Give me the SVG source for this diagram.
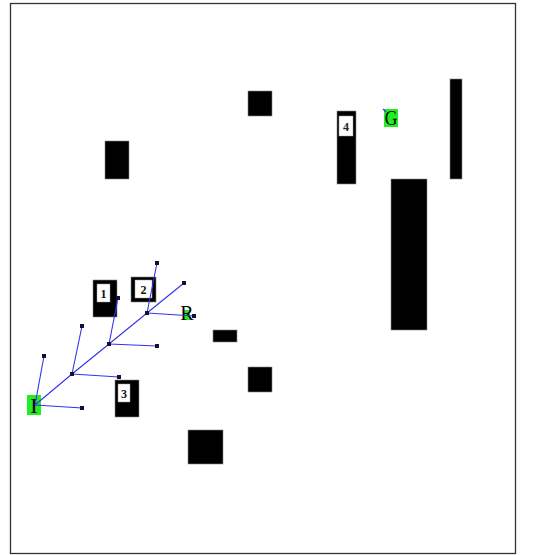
<svg xmlns="http://www.w3.org/2000/svg" width="541" height="555" viewBox="0 0 541 555">
<style>
.obs{fill:#000;stroke:#888;stroke-width:0.6}
.lbl{fill:#fff;stroke:#999;stroke-width:0.5}
.num{font-family:"Liberation Serif",serif;font-size:12px;font-weight:bold;fill:#111;text-anchor:middle}
.big{font-family:"Liberation Serif",serif;font-size:22px;fill:#000;text-anchor:middle}
.start{fill:#22ee22}
.edge{stroke:#3333ee;stroke-width:1.1;fill:none}
.node{fill:#111133}
</style>
<rect x="0" y="0" width="541" height="555" fill="#fff"/>
<rect x="10.5" y="3.5" width="505" height="550" fill="none" stroke="#333" stroke-width="1.3"/>
<g id="obstacles">
<rect class="obs" x="248" y="91" width="24" height="25"/>
<rect class="obs" x="105" y="141" width="24" height="38"/>
<rect class="obs" x="450" y="79" width="12" height="100"/>
<rect class="obs" x="391" y="179" width="36" height="151"/>
<rect class="obs" x="213" y="330" width="24" height="12"/>
<rect class="obs" x="248" y="367" width="24" height="25"/>
<rect class="obs" x="188" y="430" width="35" height="34"/>
</g>
<g id="box1"><rect class="obs" x="93" y="280" width="24" height="37"/><rect class="lbl" x="97" y="284" width="13" height="18"/><text class="num" x="103.5" y="298">1</text></g>
<g id="box2"><rect class="obs" x="131" y="277" width="25" height="25"/><rect class="lbl" x="135" y="280" width="17" height="18"/><text class="num" x="143.5" y="294">2</text></g>
<g id="box3"><rect class="obs" x="115" y="380" width="24" height="37"/><rect class="lbl" x="118" y="384" width="12" height="18"/><text class="num" x="124" y="398">3</text></g>
<g id="box4"><rect class="obs" x="337" y="111" width="19" height="73"/><rect class="lbl" x="339" y="116" width="14" height="20"/><text class="num" x="346" y="131" style="fill:#223">4</text></g>
<g id="goal"><rect class="start" x="384" y="109" width="14" height="18"/><text class="big" x="391" y="125" transform="translate(391 117) scale(0.8 1) translate(-391 -117)">G</text></g>
<g id="init"><rect class="start" x="27" y="395" width="14" height="20"/><text class="big" x="34" y="413">I</text></g>
<g id="R"><rect class="start" x="184" y="310" width="6" height="10"/><text class="big" x="187" y="320" style="font-size:20px">R</text></g>
<g id="connectors">
<polyline class="edge" points="35,405 72,374 109,344 147,313 184,283"/>
<line class="edge" x1="35" y1="405" x2="82" y2="408"/>
<line class="edge" x1="35" y1="405" x2="44" y2="356"/>
<line class="edge" x1="72" y1="374" x2="82" y2="326"/>
<line class="edge" x1="72" y1="374" x2="119" y2="377"/>
<line class="edge" x1="109" y1="344" x2="118" y2="298"/>
<line class="edge" x1="109" y1="344" x2="157" y2="346"/>
<line class="edge" x1="147" y1="313" x2="157" y2="263"/>
<line class="edge" x1="147" y1="313" x2="194" y2="316"/>
<line class="edge" x1="383" y1="109" x2="386" y2="112"/>
</g>
<g id="nodes">
<rect class="node" x="70" y="372" width="4" height="4"/>
<rect class="node" x="107" y="342" width="4" height="4"/>
<rect class="node" x="145" y="311" width="4" height="4"/>
<rect class="node" x="182" y="281" width="4" height="4"/>
<rect class="node" x="80" y="406" width="4" height="4"/>
<rect class="node" x="42" y="354" width="4" height="4"/>
<rect class="node" x="80" y="324" width="4" height="4"/>
<rect class="node" x="117" y="375" width="4" height="4"/>
<rect class="node" x="116" y="296" width="4" height="4"/>
<rect class="node" x="155" y="344" width="4" height="4"/>
<rect class="node" x="155" y="261" width="4" height="4"/>
<rect class="node" x="192" y="314" width="4" height="4"/>
</g>
</svg>
